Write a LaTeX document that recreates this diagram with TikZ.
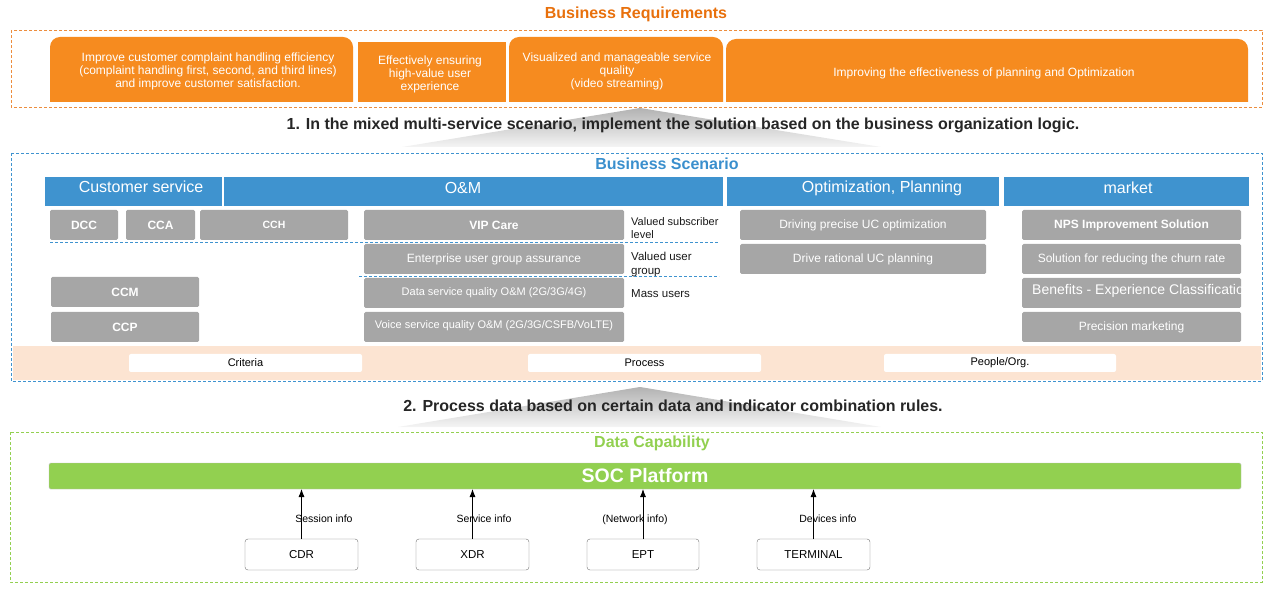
\documentclass[tikz,border=0pt]{standalone}
\usepackage{fontspec}
\setmainfont{Liberation Sans}
\usetikzlibrary{arrows.meta,backgrounds}
\definecolor{borange}{HTML}{F68B1F}
\definecolor{torange}{HTML}{E8700C}
\definecolor{bblue}{HTML}{3F93CF}
\definecolor{tblue}{HTML}{3A8FCD}
\definecolor{bgray}{HTML}{A6A6A6}
\definecolor{peach}{HTML}{FCE4D2}
\definecolor{bgreen}{HTML}{92D050}
\tikzset{
  nw/.style={anchor=north west, inner sep=0pt, outer sep=0pt},
  reqbox/.style={nw},
  reqflat/.style={reqbox, fill=borange},
  reqtext/.style={inner sep=0pt, text=white, align=center, font=\fontsize{12}{13}\selectfont},
  secttitle/.style={font=\bfseries\fontsize{16}{18}\selectfont},
  steptext/.style={font=\bfseries\fontsize{16}{18}\selectfont, text=black!85},
  dashframe/.style={dash pattern=on 3pt off 2pt, line width=0.7pt},
  hdr/.style={nw, fill=bblue},
  hdrtext/.style={inner sep=0pt, text=white, font=\fontsize{16}{18}\selectfont},
  gbox/.style={nw, fill=bgray, text=white, rounded corners=1.5pt, font=\fontsize{12}{14}\selectfont},
  gboxb/.style={gbox, font=\bfseries\fontsize{12}{14}\selectfont},
  sidelbl/.style={anchor=west, align=left, inner sep=0pt, text=black!90, font=\fontsize{11}{13}\selectfont},
  wbox/.style={nw, fill=white, rounded corners=2pt, font=\fontsize{11}{13}\selectfont},
  socbar/.style={nw, fill=bgreen, draw=black!25, rounded corners=1.5pt, text=white, font=\bfseries\fontsize{19.5}{22}\selectfont},
  dbox/.style={nw, fill=white, draw=black!55, rounded corners=3pt, font=\fontsize{11.5}{14}\selectfont},
  infolbl/.style={inner sep=0pt, font=\fontsize{10.5}{12}\selectfont},
  feed/.style={line width=0.8pt, -{Latex[length=8pt,width=6pt]}}
}
\begin{document}
\begin{tikzpicture}[x=1pt,y=-1pt]
\useasboundingbox (0,0) rectangle (1282,593);

% ---------------- Business requirements ----------------
\node[secttitle, text=torange] (brtitle) at (636,14) {Business Requirements};
\draw[torange!80, dashframe] (11,30) rectangle (1262,107);

\node[reqbox, minimum width=303, minimum height=65] (req1) at (50,37) {};
\node[reqflat, minimum width=148, minimum height=60] (req2) at (358,42) {};
\node[reqbox, minimum width=214, minimum height=65] (req3) at (509,37) {};
\node[reqbox, minimum width=522, minimum height=63] (req4) at (726,39) {};
\begin{scope}[on background layer]
  \foreach \n in {req1,req3,req4}{
    \fill[borange] (\n.south west) [rounded corners=10pt] -- (\n.north west) -- (\n.north east) [sharp corners] -- (\n.south east) -- cycle;
  }
\end{scope}
\node[reqtext] (req1t) at (208,71)
  {Improve customer complaint handling efficiency\\(complaint handling first, second, and third lines)\\and improve customer satisfaction.};
\node[reqtext] (req2t) at (430,74) {Effectively ensuring\\high-value user\\experience};
\node[reqtext] (req3t) at (617,71) {Visualized and manageable service\\quality\\(video streaming)};
\node[reqtext] (req4t) at (984,73) {Improving the effectiveness of planning and Optimization};

% wedge 1 + step text
\shade[top color=black!30, bottom color=black!4] (640,108) -- (881,147) -- (402,147) -- cycle;
\node[steptext] (step1) at (683,125) {1. In the mixed multi-service scenario, implement the solution based on the business organization logic.};

% ---------------- Business scenario ----------------
\fill[peach] (13,346) rectangle (1261,380);
\draw[bblue, dashframe] (11,153) rectangle (1262,381);
\node[secttitle, text=tblue] (bstitle) at (667,164) {Business Scenario};

\node[hdr, minimum width=177, minimum height=29] (hcs) at (45,177) {};
\node[hdr, minimum width=499, minimum height=29] (hom) at (224,177) {};
\node[hdr, minimum width=272, minimum height=29] (hop) at (727,177) {};
\node[hdr, minimum width=245, minimum height=29] (hmk) at (1004,177) {};
\node[hdrtext] (hcst) at (141,187) {Customer service};
\node[hdrtext] (homt) at (463,188) {O\&M};
\node[hdrtext] (hopt) at (882,188) {Optimization, Planning};
\node[hdrtext] (hmkt) at (1128,188) {market};

\node[gboxb, minimum width=68, minimum height=30] (dcc) at (50,210) {DCC};
\node[gboxb, minimum width=69, minimum height=30] (cca) at (126,210) {CCA};
\node[gboxb, minimum width=148, minimum height=30, font=\bfseries\fontsize{10.5}{12}\selectfont] (cch) at (200,210) {CCH};
\node[gboxb, minimum width=148, minimum height=30] (ccm) at (51,277) {CCM};
\node[gboxb, minimum width=148, minimum height=30] (ccp) at (51,312) {CCP};

\node[gboxb, minimum width=260, minimum height=30] (vip) at (364,210) {VIP Care};
\node[gbox, minimum width=260, minimum height=30] (ent) at (364,244) {Enterprise user group assurance};
\node[gbox, minimum width=260, minimum height=30, font=\fontsize{11}{12}\selectfont] (dsq) at (364,278) {Data service quality O\&M (2G/3G/4G)};
\node[gbox, minimum width=260, minimum height=30, font=\fontsize{11}{12}\selectfont, text depth=5pt] (vsq) at (364,312) {Voice service quality O\&M (2G/3G/CSFB/VoLTE)};

\node[sidelbl] (lblvs) at (631,228) {Valued subscriber\\level};
\node[sidelbl, font=\fontsize{11.5}{14}\selectfont] (lblvu) at (631,265) {Valued user\\group};
\node[sidelbl, font=\fontsize{11.5}{13}\selectfont] (lblmu) at (631,294) {Mass users};
\draw[bblue, dashframe] (50,242) -- (719,242);
\draw[bblue, dashframe] (359,276) -- (719,276);

\node[gbox, minimum width=246, minimum height=30] (ucopt) at (740,210) {Driving precise UC optimization};
\node[gbox, minimum width=246, minimum height=30] (ucplan) at (740,244) {Drive rational UC planning};

\node[gboxb, minimum width=219, minimum height=30] (nps) at (1022,210) {NPS Improvement Solution};
\node[gbox, minimum width=219, minimum height=30] (churn) at (1022,244) {Solution for reducing the churn rate};
\node[gbox, minimum width=219, minimum height=30] (benef) at (1022,278) {};
\begin{scope}
  \clip (1022,278) rectangle (1241,308);
  \node[anchor=west, inner sep=0pt, text=white, font=\fontsize{14}{16}\selectfont] (beneftxt) at (1032,291) {Benefits - Experience Classification};
\end{scope}
\node[gbox, minimum width=219, minimum height=30] (prec) at (1022,312) {Precision marketing};

\node[wbox, minimum width=233, minimum height=18] (crit) at (129,354) {Criteria};
\node[wbox, minimum width=233, minimum height=18] (proc) at (528,354) {Process};
\node[wbox, minimum width=232, minimum height=18] (peop) at (884,354) {People/Org.};

% wedge 2 + step text
\shade[top color=black!30, bottom color=black!4] (640,387) -- (881,427) -- (398,427) -- cycle;
\node[steptext] (step2) at (673,406) {2. Process data based on certain data and indicator combination rules.};

% ---------------- Data capability ----------------
\draw[bgreen, dashframe] (10,432) rectangle (1262,582);
\node[secttitle, text=bgreen] (dctitle) at (652,443) {Data Capability};
\node[socbar, minimum width=1192, minimum height=26] (soc) at (49,463) {SOC Platform};

\node[dbox, minimum width=113, minimum height=31] (cdr) at (245,539) {CDR};
\node[dbox, minimum width=113, minimum height=31] (xdr) at (416,539) {XDR};
\node[dbox, minimum width=112, minimum height=31] (ept) at (587,539) {EPT};
\node[dbox, minimum width=113, minimum height=31] (term) at (757,539) {TERMINAL};

\draw[feed] (cdr.north) -- (cdr.north |- soc.south);
\draw[feed] (xdr.north) -- (xdr.north |- soc.south);
\draw[feed] (ept.north) -- (ept.north |- soc.south);
\draw[feed] (term.north) -- (term.north |- soc.south);

\node[infolbl] (isess) at (324,519) {Session info};
\node[infolbl] (iserv) at (484,519) {Service info};
\node[infolbl] (inet) at (635,520) {(Network info)};
\node[infolbl] (idev) at (828,519) {Devices info};
\end{tikzpicture}
\end{document}
